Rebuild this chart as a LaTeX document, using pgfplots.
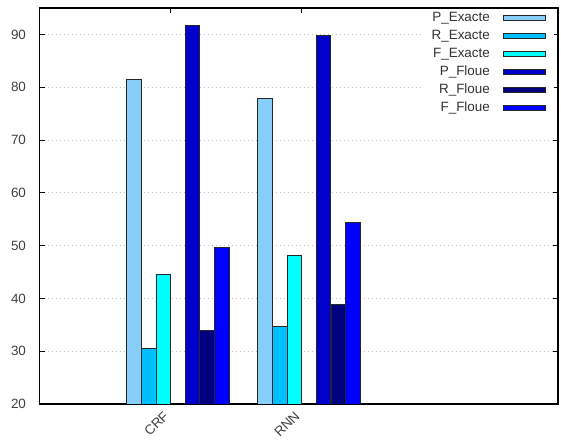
\documentclass[border=0pt]{standalone}
\usepackage{fontspec}
\setmainfont{Liberation Sans}
\usepackage{pgfplots}
\pgfplotsset{compat=1.18}
\definecolor{pe}{HTML}{87CEFA}
\definecolor{re}{HTML}{00BFFF}
\definecolor{fe}{HTML}{00FFFF}
\definecolor{pf}{HTML}{0000CD}
\definecolor{rf}{HTML}{000080}
\definecolor{ff}{HTML}{0000FF}
\pgfplotsset{
  boxleg/.style={legend image code/.code={\draw[##1] (0bp,-2.5bp) rectangle (42bp,2.5bp);}},
  mybar/.style={ybar, bar width=0.1115, draw=black!85, line width=0.9bp, fill=#1, boxleg},
}
\begin{document}
\begin{tikzpicture}
\useasboundingbox (0,0) rectangle (561bp,440bp);
\begin{axis}[
  at={(39.5bp,36bp)}, anchor=south west,
  scale only axis, width=518.5bp, height=396bp,
  xmin=-1, xmax=2.955, ymin=20, ymax=95,
  xtick={0,1}, xticklabels={CRF,RNN},
  ytick={20,30,...,90},
  /pgf/number format/assume math mode=true,
  tick align=inside, major tick length=5bp,
  xtick pos=both, ytick pos=both,
  ymajorgrids,
  grid style={gray!50, line width=0.8bp, dash pattern=on 1.5bp off 2.5bp},
  axis line style={black, line width=1.1bp},
  tick style={black, line width=1bp},
  tick label style={font=\fontsize{13.5}{16}\selectfont, text=black!75},
  yticklabel style={xshift=-10bp},
  xticklabel style={rotate=45, anchor=north east, yshift=3bp, xshift=-8bp, inner sep=2bp},
  legend cell align=right,
  legend plot pos=right,
  legend style={draw=none, fill=white, at={(1,1)}, anchor=north east,
    xshift=-4bp, yshift=-2bp, inner xsep=8bp, inner ysep=2bp,
    font=\fontsize{13.5}{16}\selectfont, text=black!80,
    column sep=13bp, row sep=6bp,
    nodes={inner sep=0pt, text height=9.5bp, text depth=2.5bp}},
]
\addplot[mybar=pe, bar shift=-0.279] coordinates {(0,81.4) (1,77.8)};
\addlegendentry{P\_Exacte}
\addplot[mybar=re, bar shift=-0.167] coordinates {(0,30.5) (1,34.6)};
\addlegendentry{R\_Exacte}
\addplot[mybar=fe, bar shift=-0.056] coordinates {(0,44.6) (1,48.1)};
\addlegendentry{F\_Exacte}
\addplot[mybar=pf, bar shift=0.167] coordinates {(0,91.7) (1,89.75)};
\addlegendentry{P\_Floue}
\addplot[mybar=rf, bar shift=0.279] coordinates {(0,33.9) (1,38.9)};
\addlegendentry{R\_Floue}
\addplot[mybar=ff, bar shift=0.390] coordinates {(0,49.6) (1,54.4)};
\addlegendentry{F\_Floue}
\end{axis}
\end{tikzpicture}
\end{document}
